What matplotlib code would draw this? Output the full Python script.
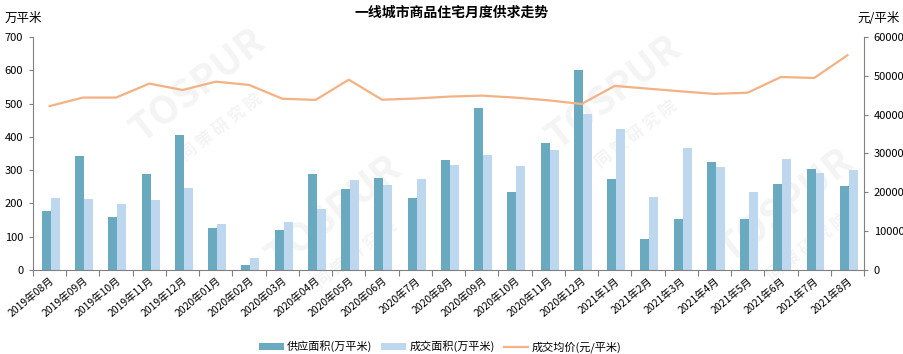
import matplotlib
matplotlib.use("Agg")
import matplotlib.pyplot as plt
import numpy as np

plt.rcParams['font.family'] = ['Noto Sans CJK SC', 'DejaVu Sans']

months = ['2019年08月', '2019年09月', '2019年10月', '2019年11月', '2019年12月',
          '2020年01月', '2020年02月', '2020年03月', '2020年04月', '2020年05月',
          '2020年06月', '2020年7月', '2020年8月', '2020年09月', '2020年10月',
          '2020年11月', '2020年12月', '2021年1月', '2021年2月', '2021年3月',
          '2021年4月', '2021年5月', '2021年6月', '2021年7月', '2021年8月']
supply = [176, 341, 158, 287, 407, 125, 14, 119, 287, 242, 275, 215, 329,
          487, 234, 381, 601, 273, 93, 153, 324, 153, 258, 303, 252]
deal = [215, 212, 197, 209, 245, 137, 35, 143, 182, 269, 254, 272, 316,
        346, 312, 360, 469, 424, 219, 366, 309, 234, 333, 291, 300]
price = [42200, 44400, 44400, 48000, 46350, 48500, 47650, 44100, 43800, 49000,
         43850, 44150, 44650, 44900, 44400, 43700, 42750, 47400, 46700, 46000,
         45350, 45650, 49700, 49450, 55300]

c_supply = '#6aaac0'
c_deal = '#bdd7ee'
c_price = '#f4b183'
grey = '#808080'

fig = plt.figure(figsize=(9.04, 3.54), dpi=100)
ax = fig.add_axes([0.0365, 0.2373, 0.9193, 0.6582])
ax2 = ax.twinx()

# faint watermark, behind the axes
for wx, wy in [(0.22, 0.76), (0.68, 0.74), (0.37, 0.40), (0.87, 0.42)]:
    fig.text(wx, wy, 'TOSPUR', fontsize=28, fontweight='bold', color='#f4f4f4',
             rotation=38, ha='center', va='center', zorder=-1)
    fig.text(wx + 0.025, wy - 0.12, '同 策 研 究 院', fontsize=12, fontweight='bold',
             color='#f4f4f4', rotation=38, ha='center', va='center', zorder=-1)

x = np.arange(len(months))
w = 0.27
ax.bar(x - w / 2 + 0.04, supply, w, color=c_supply, label='供应面积(万平米)', zorder=2)
ax.bar(x + w / 2 + 0.04, deal, w, color=c_deal, label='成交面积(万平米)', zorder=2)
ax2.plot(x, price, color=c_price, lw=1.6, label='成交均价(元/平米)')

ax.set_xlim(-0.5, len(months) - 0.5)
ax.set_ylim(0, 700)
ax.set_yticks(range(0, 701, 100))
ax2.set_ylim(0, 60000)
ax2.set_yticks(range(0, 60001, 10000))

ax.set_xticks(np.arange(len(months) + 1) - 0.5, minor=False)
ax.set_xticklabels([])
ax.set_xticks(x, minor=True)
ax.set_xticklabels(months, minor=True, rotation=40, ha='right',
                   rotation_mode='anchor', fontsize=7.5)
ax.tick_params(axis='x', which='minor', length=0, pad=4)
ax.tick_params(axis='x', which='major', length=4, color=grey, direction='out')

ax.patch.set_alpha(0)
for a in (ax, ax2):
    a.spines['top'].set_visible(False)
    for s in ('left', 'right', 'bottom'):
        a.spines[s].set_color(grey)
ax.spines['right'].set_visible(False)
ax2.spines['left'].set_visible(False)
ax2.spines['bottom'].set_visible(False)
ax.tick_params(axis='y', labelsize=8, length=3, color=grey, pad=4)
ax2.tick_params(axis='y', labelsize=8, length=3, color=grey, pad=4)

fig.text(0.5, 0.985, '一线城市商品住宅月度供求走势', ha='center', va='top',
         fontsize=10, fontweight='bold')
fig.text(0.005, 0.93, '万平米', ha='left', va='bottom', fontsize=9)
fig.text(0.995, 0.93, '元/平米', ha='right', va='bottom', fontsize=9)

h1, l1 = ax.get_legend_handles_labels()
h2, l2 = ax2.get_legend_handles_labels()
fig.legend(h1 + h2, l1 + l2, loc='lower center', bbox_to_anchor=(0.487, -0.025),
           ncol=3, frameon=False, fontsize=8, handlelength=2.2,
           handleheight=0.6, columnspacing=0.8, handletextpad=0.3)

fig.savefig('out.png', dpi=100)
